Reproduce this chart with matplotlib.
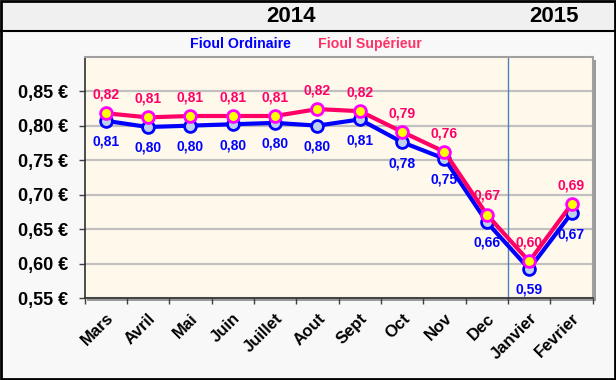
import matplotlib.pyplot as plt
from matplotlib.patches import Rectangle
from matplotlib.lines import Line2D
from matplotlib.ticker import FixedLocator

plt.rcParams['font.family'] = ['Liberation Sans', 'DejaVu Sans']

# data
months = ['Mars', 'Avril', 'Mai', 'Juin', 'Juillet', 'Aout', 'Sept',
          'Oct', 'Nov', 'Dec', 'Janvier', 'Fevrier']
ordinaire = [0.807, 0.798, 0.800, 0.802, 0.804, 0.800, 0.809,
             0.776, 0.752, 0.660, 0.592, 0.673]
superieur = [0.818, 0.812, 0.814, 0.814, 0.814, 0.824, 0.821,
             0.791, 0.762, 0.671, 0.603, 0.686]
y_ticks = [0.55, 0.60, 0.65, 0.70, 0.75, 0.80, 0.85]
years = ['2014', '2015']
names = ['Fioul Ordinaire', 'Fioul Supérieur']

BLUE = '#0000FF'
PINK = '#FF0066'

fig = plt.figure(figsize=(6.16, 3.80), dpi=100)
fig.patch.set_facecolor('#F8F8F8')

# header band + outer frame
fig.patches.append(Rectangle((0, 1 - 30 / 380), 1, 30 / 380, transform=fig.transFigure,
                             facecolor='#F0F0F0', edgecolor='none', zorder=-2))
fig.lines.append(Line2D([0, 1], [1 - 30.5 / 380] * 2, transform=fig.transFigure,
                        color='black', lw=1.5))
fig.patches.append(Rectangle((0.0015, 0.0025), 0.997, 0.995, transform=fig.transFigure,
                             facecolor='none', edgecolor='black', lw=2, zorder=5))

x0, x1 = 84.5 / 616, 592.7 / 616
y0, y1 = 1 - 298 / 380, 1 - 56.7 / 380
# shadow of the plot area
fig.patches.append(Rectangle((x0 + 3 / 616, y0 - 3 / 380), x1 - x0, y1 - y0,
                             transform=fig.transFigure, facecolor='#9A9A9A',
                             edgecolor='none', zorder=-1))
ax = fig.add_axes([x0, y0, x1 - x0, y1 - y0])
ax.set_zorder(1)
ax.set_facecolor('#FFF9EC')

x = list(range(len(months)))
ax.plot(x, ordinaire, color=BLUE, lw=3, marker='o', ms=8.5,
        mfc='#BDD0EE', mec=BLUE, mew=2, zorder=3, clip_on=False)
ax.plot(x, superieur, color=PINK, lw=3, marker='o', ms=8.5,
        mfc='#FFFF00', mec='#FF00FF', mew=2, zorder=4, clip_on=False)

for i in x:
    ax.annotate(f"{ordinaire[i]:.2f}".replace('.', ','), (i, ordinaire[i]),
                xytext=(0, -15), textcoords='offset points', ha='center', va='center',
                color=BLUE, fontsize=10, fontweight='bold', zorder=6)
    ax.annotate(f"{superieur[i]:.2f}".replace('.', ','), (i, superieur[i]),
                xytext=(0, 13.5), textcoords='offset points', ha='center', va='center',
                color=PINK, fontsize=10, fontweight='bold', zorder=6)

ax.set_xlim(-0.5, len(months) - 0.5)
ax.set_ylim(0.55, 0.90)
ax.set_yticks(y_ticks)
ax.set_yticklabels([f"{v:.2f} €".replace('.', ',') for v in y_ticks],
                   fontsize=13, fontweight='bold')
ax.grid(axis='y', color='#C0C0C0', lw=1.6, zorder=1)
ax.set_axisbelow(True)
ax.axvline(9.5, color='#4F81BD', lw=1, zorder=2)

ax.xaxis.set_major_locator(FixedLocator([i - 0.5 for i in range(len(months) + 1)]))
ax.xaxis.set_minor_locator(FixedLocator(x))
ax.set_xticklabels([], minor=False)
ax.set_xticklabels(months, minor=True, rotation=45, ha='right',
                   rotation_mode='anchor', fontsize=12, fontweight='bold')
ax.tick_params(axis='x', which='minor', length=0, pad=9)
ax.tick_params(axis='x', which='major', length=4, width=1, color='#404040')
ax.tick_params(axis='y', length=4.5, width=1, color='#404040', pad=7)

for s in ['left', 'bottom']:
    ax.spines[s].set_color('#303030')
    ax.spines[s].set_linewidth(1.2)
for s in ['top', 'right']:
    ax.spines[s].set_color('#A0A0A0')
    ax.spines[s].set_linewidth(1.5)

fig.text(291 / 616, 1 - 16 / 380, years[0], ha='center', va='center',
         fontsize=16, fontweight='bold')
fig.text(554 / 616, 1 - 16 / 380, years[1], ha='center', va='center',
         fontsize=16, fontweight='bold')
fig.text(240.5 / 616, 1 - 44 / 380, names[0], ha='center', va='center',
         fontsize=10.2, fontweight='bold', color=BLUE)
fig.text(370 / 616, 1 - 44 / 380, names[1], ha='center', va='center',
         fontsize=10.2, fontweight='bold', color='#FF3366')

fig.savefig('out.png', dpi=100, facecolor=fig.get_facecolor())
